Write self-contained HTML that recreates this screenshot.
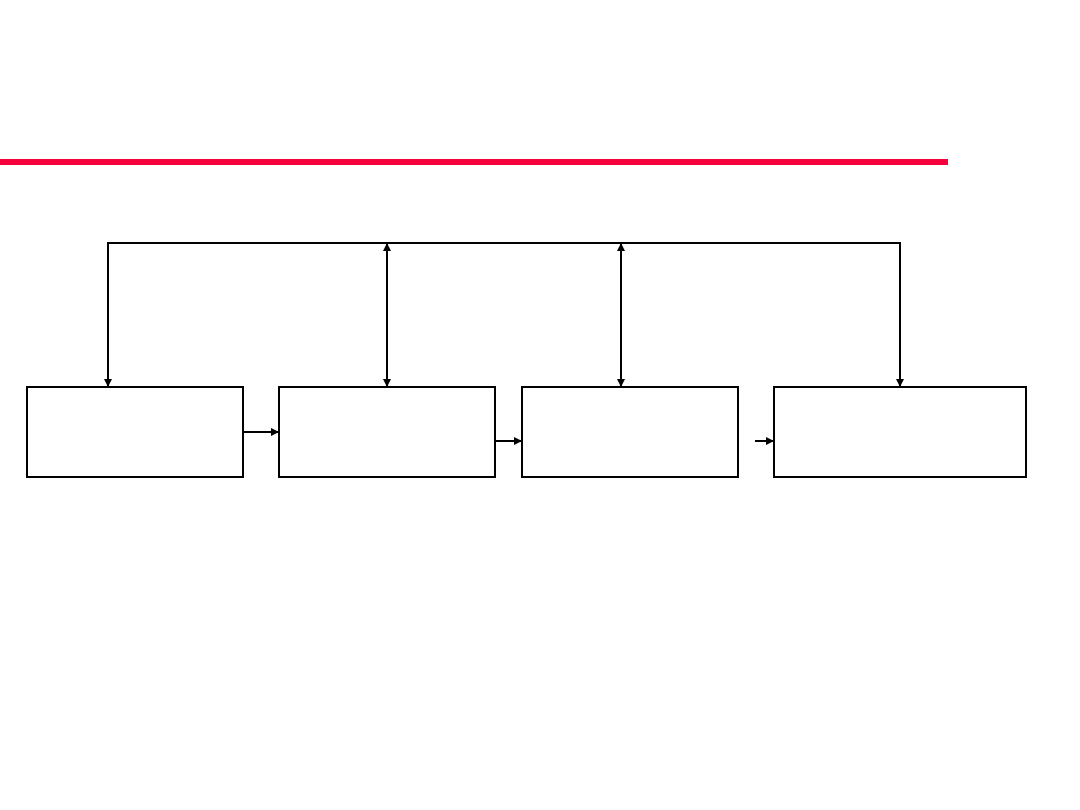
<!DOCTYPE html>
<html><head><style>html,body{margin:0;padding:0;background:#fff;width:1080px;height:810px;overflow:hidden}</style></head>
<body>
<svg width="1080" height="810" xmlns="http://www.w3.org/2000/svg">
<defs>
<marker id="a" markerWidth="8" markerHeight="8" refX="8" refY="4" orient="auto" markerUnits="userSpaceOnUse">
<path d="M0,0 L8,4 L0,8 z" fill="#000"/></marker>
</defs>
<rect x="0" y="159" width="948" height="6" fill="#f5003a"/>
<g fill="none" stroke="#000" stroke-width="2">
<rect x="27" y="387" width="216" height="90"/>
<rect x="279" y="387" width="216" height="90"/>
<rect x="522" y="387" width="216" height="90"/>
<rect x="774" y="387" width="252" height="90"/>
<polyline points="108,387 108,243 900,243 900,387" marker-end="url(#a)"/>
<line x1="108" y1="300" x2="108" y2="387" marker-end="url(#a)"/>
<line x1="387" y1="300" x2="387" y2="387" marker-end="url(#a)"/>
<line x1="387" y1="300" x2="387" y2="243" marker-end="url(#a)"/>
<line x1="621" y1="300" x2="621" y2="387" marker-end="url(#a)"/>
<line x1="621" y1="300" x2="621" y2="243" marker-end="url(#a)"/>
<line x1="243" y1="432" x2="279" y2="432" marker-end="url(#a)"/>
<line x1="495" y1="441" x2="522" y2="441" marker-end="url(#a)"/>
<line x1="755" y1="441" x2="774" y2="441" marker-end="url(#a)"/>
</g>
</svg>
</body></html>
